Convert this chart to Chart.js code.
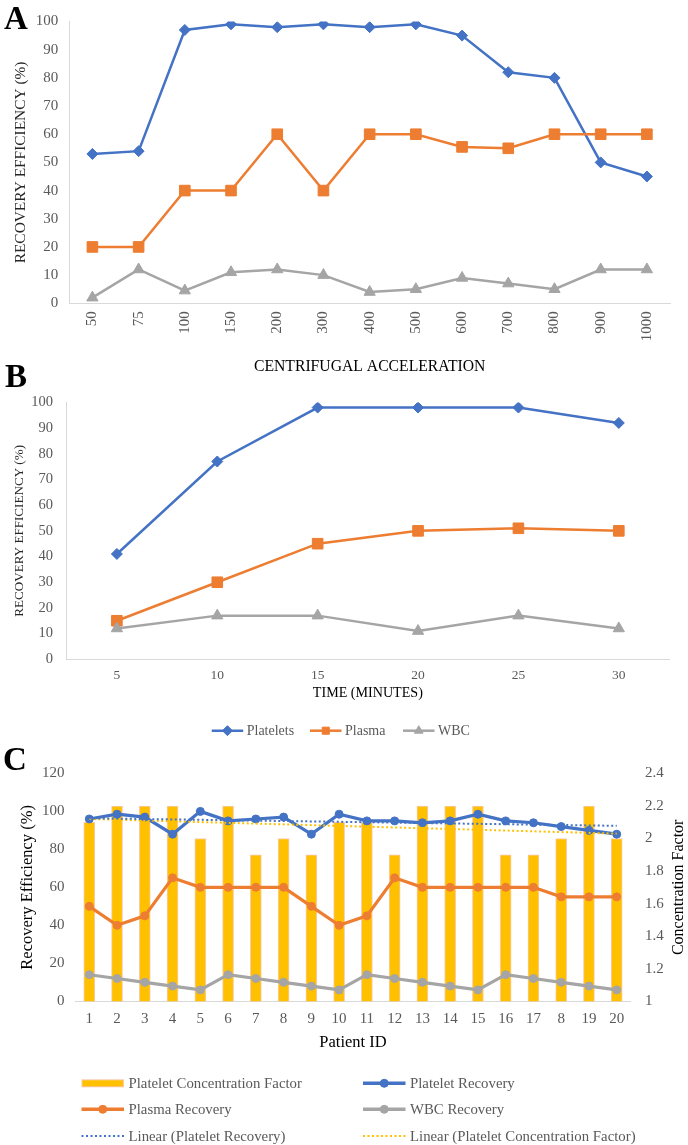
<!DOCTYPE html>
<html>
<head>
<meta charset="utf-8">
<script src="https://cdn.jsdelivr.net/npm/chart.js@4.4.0/dist/chart.umd.min.js"></script>
<style>
  html, body { margin: 0; padding: 0; background: #fff; }
  #page { position: relative; width: 688px; height: 1145px; overflow: hidden; }
  .panel { position: absolute; left: 0; }
  .tag { position: absolute; font-family: 'Liberation Serif', 'Times New Roman', serif; font-weight: bold; font-size: 33px; line-height: 1; color: #000; }
</style>
</head>
<body>
<div id="page">
  <canvas id="chartA" class="panel" style="top:0" width="688" height="380"></canvas>
  <canvas id="chartB" class="panel" style="top:380px" width="688" height="370"></canvas>
  <canvas id="chartC" class="panel" style="top:750px" width="688" height="395"></canvas>
  <div class="tag" style="left:4px;top:2px">A</div>
  <div class="tag" style="left:5px;top:360px">B</div>
  <div class="tag" style="left:3px;top:743px">C</div>
</div>
<script>
// --- panel A: recovery vs centrifugal acceleration
const accelLabels = ['50', '75', '100', '150', '200', '300', '400', '500', '600', '700', '800', '900', '1000'];
const accelPlatelets = [53, 54, 97, 99, 98, 99, 98, 99, 95, 82, 80, 50, 45];
const accelPlasma = [20, 20, 40, 40, 60, 40, 60, 60, 55.5, 55, 60, 60, 60];
const accelWbc = [2, 12, 4.5, 11, 12, 10, 4, 5, 9, 7, 5, 12, 12];

// --- panel B: recovery vs time
const timeLabels = ['5', '10', '15', '20', '25', '30'];
const timePlatelets = [41, 77, 98, 98, 98, 92];
const timePlasma = [15, 30, 45, 50, 51, 50];
const timeWbc = [12, 17, 17, 11, 17, 12];

// --- panel C: per patient (the 18th label really reads "8" in the figure)
const patientIds = ['1', '2', '3', '4', '5', '6', '7', '8', '9', '10', '11', '12', '13', '14', '15', '16', '17', '8', '19', '20'];
const concFactor = [2.1, 2.2, 2.2, 2.2, 2.0, 2.2, 1.9, 2.0, 1.9, 2.1, 2.1, 1.9, 2.2, 2.2, 2.2, 1.9, 1.9, 2.0, 2.2, 2.0];
const patientPlatelets = [96, 98.5, 97, 88, 100, 95, 96, 97, 88, 98.5, 95, 95, 94, 95, 98.5, 95, 94, 92, 90, 88];
const patientPlasma = [50, 40, 45, 65, 60, 60, 60, 60, 50, 40, 45, 65, 60, 60, 60, 60, 60, 55, 55, 55];
const patientWbc = [14, 12, 10, 8, 6, 14, 12, 10, 8, 6, 14, 12, 10, 8, 6, 14, 12, 10, 8, 6];
// trendline end values (first and last patient)
const plateletTrendEnds = [96.4, 92.4];
const concTrendEnds = [2.12, 2.03];

const SERIF = "'Liberation Serif', 'Times New Roman', serif";
const BLUE = '#4472C4';
const ORANGE = '#ED7D31';
const GRAY = '#A5A5A5';
const GOLD = '#FFC000';
const TICK = '#595959';
const AXIS = '#D9D9D9';

Chart.defaults.font.family = SERIF;

// Excel-like legend: short line with the marker in its middle, then the text
const sketchLegend = {
  id: 'sketchLegend',
  afterDraw(chart, args, opts) {
    if (!opts.items) return;
    const ctx = chart.ctx;
    ctx.save();
    opts.items.forEach(it => {
      const ds = chart.data.datasets[it.dataset];
      const x0 = it.x, x1 = it.x + opts.swatch, y = it.y;
      if (ds.type === 'bar') {
        ctx.fillStyle = ds.borderColor;
        ctx.fillRect(x0, y - 4, x1 - x0, 8);
        ctx.fillStyle = ds.backgroundColor;
        ctx.fillRect(x0 + 1, y - 3, x1 - x0 - 2, 6);
      } else {
        ctx.strokeStyle = ds.borderColor;
        ctx.lineWidth = opts.lineWidth || ds.borderWidth;
        if (ds.borderDash) { ctx.lineWidth = ds.borderWidth; ctx.setLineDash(ds.borderDash); }
        ctx.beginPath();
        ctx.moveTo(x0, y);
        ctx.lineTo(x1, y);
        ctx.stroke();
        ctx.setLineDash([]);
        if (ds.pointRadius) {
          ctx.fillStyle = ds.borderColor;
          ctx.lineWidth = 1;
          Chart.helpers.drawPoint(ctx, { pointStyle: ds.pointStyle, rotation: 0, radius: opts.pointRadius || ds.pointRadius, borderWidth: 1 }, (x0 + x1) / 2, y);
        }
      }
      ctx.fillStyle = opts.color;
      ctx.font = opts.font;
      ctx.textBaseline = 'middle';
      ctx.textAlign = 'left';
      ctx.fillText(ds.label, x1 + opts.gap, y + 1);
    });
    ctx.restore();
  }
};

// right axis title reading bottom to top, as in the figure
const sideTitle = {
  id: 'sideTitle',
  afterDraw(chart, args, opts) {
    if (!opts.text) return;
    const ctx = chart.ctx;
    const area = chart.chartArea;
    ctx.save();
    ctx.translate(opts.x, (area.top + area.bottom) / 2);
    ctx.rotate(-Math.PI / 2);
    ctx.font = opts.font;
    ctx.fillStyle = opts.color;
    ctx.textAlign = 'center';
    ctx.textBaseline = 'middle';
    ctx.fillText(opts.text, 0, 0);
    ctx.restore();
  }
};

function series(label, data, color, pointStyle, radius, order) {
  return {
    label, data, order,
    type: 'line',
    borderColor: color,
    backgroundColor: color,
    borderWidth: 2.5,
    pointStyle,
    pointRadius: radius,
    pointBackgroundColor: color,
    pointBorderColor: color,
    pointBorderWidth: 1,
    tension: 0
  };
}

function noGrid() {
  return { display: false, drawTicks: false };
}

// ---------- A ----------
new Chart(document.getElementById('chartA'), {
  type: 'line',
  data: {
    labels: accelLabels,
    datasets: [
      series('Platelets', accelPlatelets, BLUE, 'rectRot', 5.5, 3),
      series('Plasma', accelPlasma, ORANGE, 'rect', 7.5, 2),
      series('WBC', accelWbc, GRAY, 'triangle', 6.5, 1)
    ]
  },
  options: {
    responsive: false,
    animation: false,
    layout: { padding: { top: 21.5, right: 18, bottom: 0, left: 0 } },
    plugins: { legend: { display: false }, tooltip: { enabled: false } },
    scales: {
      x: {
        offset: true,
        grid: noGrid(),
        border: { color: AXIS },
        ticks: { minRotation: 90, maxRotation: 90, padding: 8, color: TICK, font: { size: 15 } },
        title: { display: true, text: 'CENTRIFUGAL ACCELERATION', color: '#000', font: { size: 15.7 }, padding: { top: 0, bottom: 3.5 } },
        afterFit: s => { s.height = 76.7; }
      },
      y: {
        min: 0, max: 100,
        grid: noGrid(),
        border: { color: AXIS },
        ticks: { stepSize: 10, padding: 11, color: TICK, font: { size: 15 } },
        title: { display: true, text: 'RECOVERY EFFICIENCY (%)', color: '#262626', font: { size: 15.4 }, padding: { top: 11.5, bottom: 0 } },
        afterFit: s => { s.width = 69.3; }
      }
    }
  }
});

// ---------- B ----------
new Chart(document.getElementById('chartB'), {
  type: 'line',
  data: {
    labels: timeLabels,
    datasets: [
      series('Platelets', timePlatelets, BLUE, 'rectRot', 5.5, 3),
      series('Plasma', timePlasma, ORANGE, 'rect', 7.5, 2),
      series('WBC', timeWbc, GRAY, 'triangle', 6.5, 1)
    ]
  },
  options: {
    responsive: false,
    animation: false,
    layout: { padding: { top: 13.3, right: 19, bottom: 45.7, left: 0 } },
    plugins: {
      legend: { display: false },
      tooltip: { enabled: false },
      sketchLegend: {
        swatch: 31.5, gap: 3.5, lineWidth: 2.5, pointRadius: 5,
        font: '14px ' + SERIF, color: TICK,
        items: [
          { dataset: 0, x: 211.7, y: 350.7 },
          { dataset: 1, x: 310, y: 350.7 },
          { dataset: 2, x: 403, y: 350.7 }
        ]
      }
    },
    scales: {
      x: {
        offset: true,
        grid: noGrid(),
        border: { color: AXIS },
        ticks: { padding: 8, color: TICK, font: { size: 13.5 } },
        title: { display: true, text: 'TIME (MINUTES)', color: '#000', font: { size: 14.1 }, padding: { top: 0, bottom: 2.2 } },
        afterFit: s => { s.height = 45; }
      },
      y: {
        min: 0, max: 100,
        grid: noGrid(),
        border: { color: AXIS },
        ticks: { stepSize: 10, padding: 13.7, color: TICK, font: { size: 14.5 } },
        title: { display: true, text: 'RECOVERY EFFICIENCY (%)', color: '#262626', font: { size: 13.1 }, padding: { top: 11.7, bottom: 0 } },
        afterFit: s => { s.width = 66.7; }
      }
    }
  },
  plugins: [sketchLegend]
});

// ---------- C ----------
const lastIdx = patientIds.length - 1;
const endsOnly = ends => patientIds.map((_, i) => (i === 0 ? ends[0] : i === lastIdx ? ends[1] : null));

function patientLine(label, data, color, order) {
  return {
    label, data, order,
    type: 'line',
    yAxisID: 'y',
    borderColor: color,
    backgroundColor: color,
    borderWidth: 3.2,
    pointStyle: 'circle',
    pointRadius: 4,
    pointBackgroundColor: color,
    pointBorderColor: color,
    pointBorderWidth: 1,
    tension: 0
  };
}

function trendLine(label, data, color, axis) {
  return {
    label, data,
    order: 0,
    type: 'line',
    yAxisID: axis,
    borderColor: color,
    backgroundColor: color,
    borderWidth: 2,
    borderDash: [2, 2.5],
    pointRadius: 0,
    spanGaps: true,
    tension: 0
  };
}

new Chart(document.getElementById('chartC'), {
  type: 'bar',
  data: {
    labels: patientIds,
    datasets: [
      {
        label: 'Platelet Concentration Factor',
        type: 'bar',
        data: concFactor,
        yAxisID: 'y2',
        order: 10,
        backgroundColor: GOLD,
        borderColor: '#F8CBAD',
        borderWidth: 1,
        barThickness: 11
      },
      patientLine('Platelet Recovery', patientPlatelets, BLUE, 3),
      patientLine('Plasma Recovery', patientPlasma, ORANGE, 2),
      patientLine('WBC Recovery', patientWbc, GRAY, 1),
      trendLine('Linear (Platelet Recovery)', endsOnly(plateletTrendEnds), BLUE, 'y'),
      trendLine('Linear (Platelet Concentration Factor)', endsOnly(concTrendEnds), GOLD, 'y2')
    ]
  },
  options: {
    responsive: false,
    animation: false,
    layout: { padding: { top: 14, right: 0, bottom: 91.7, left: 0 } },
    plugins: {
      legend: { display: false },
      tooltip: { enabled: false },
      sideTitle: { text: 'Concentration Factor', x: 679, font: '16px ' + SERIF, color: '#000' },
      sketchLegend: {
        swatch: 42.5, gap: 4.5, lineWidth: 3.5, pointRadius: 4,
        font: '14.8px ' + SERIF, color: TICK,
        items: [
          { dataset: 0, x: 81.5, y: 333.3 },
          { dataset: 1, x: 363, y: 333.3 },
          { dataset: 2, x: 81.5, y: 359.3 },
          { dataset: 3, x: 363, y: 359.3 },
          { dataset: 4, x: 81.5, y: 386 },
          { dataset: 5, x: 363, y: 386 }
        ]
      }
    },
    scales: {
      x: {
        offset: true,
        grid: noGrid(),
        border: { color: AXIS },
        ticks: { padding: 9, color: TICK, font: { size: 15 } },
        title: { display: true, text: 'Patient ID', color: '#000', font: { size: 16.5 }, padding: { top: 0, bottom: 0.5 } },
        afterFit: s => { s.height = 52; }
      },
      y: {
        position: 'left',
        min: 0, max: 120,
        grid: noGrid(),
        border: { display: false },
        ticks: { stepSize: 20, padding: 11, color: TICK, font: { size: 15 } },
        title: { display: true, text: 'Recovery Efficiency (%)', color: '#000', font: { size: 16.5 }, padding: { top: 18, bottom: 0 } },
        afterFit: s => { s.width = 75.4; }
      },
      y2: {
        position: 'right',
        min: 1, max: 2.4,
        grid: noGrid(),
        border: { display: false },
        ticks: { stepSize: 0.2, padding: 14.4, color: TICK, font: { size: 15 }, callback: v => String(Number(v.toFixed(1))) },
        afterFit: s => { s.width = 57.4; }
      }
    }
  },
  plugins: [sketchLegend, sideTitle]
});
</script>
</body>
</html>
